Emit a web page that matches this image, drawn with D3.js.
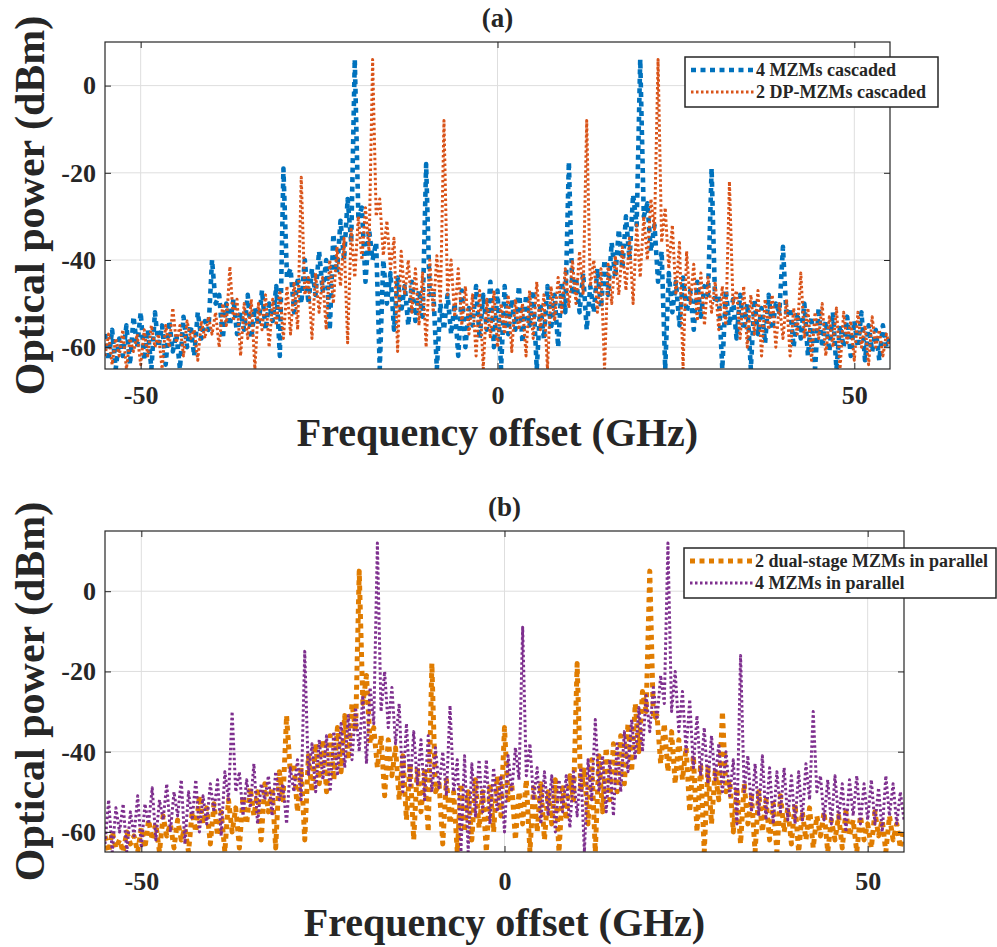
<!DOCTYPE html>
<html>
<head>
<meta charset="utf-8">
<script src="https://cdn.jsdelivr.net/npm/d3@7"></script>
<style>
  body { margin: 0; background: #fff; }
  svg text { font-family: "Liberation Serif", "Times New Roman", serif; font-weight: bold; fill: #262626; }
</style>
</head>
<body>
<svg id="fig" width="997" height="947"></svg>
<script>
// Frequency grid of the optical spectrum analyser trace (GHz)
const freqGHz = d3.range(-55, 55.001, 0.5);

const xTicks = [-50, 0, 50];
const yTicks = [-60, -40, -20, 0];

// (a) 4 MZMs cascaded, dBm (one row = 10 GHz, 0.5 GHz step)
const mzm4Cascaded = [
  -57,-63,-56,-65,-58,-62,-55,-64,-53,-60,-52,-63,-56,-65,-52,-60,-55,-64,-54,-61,
  -57,-65,-53,-60,-55,-62,-52,-58,-54,-56,-40,-50,-48,-58,-50,-55,-49,-57,-52,-56,
  -48,-58,-51,-55,-47,-56,-50,-54,-46,-62,-19,-44,-42,-52,-44,-50,-40,-50,-42,-48,
  -38,-47,-40,-56,-34,-43,-31,-40,-26,-36,6,-30,-28,-45,-33,-40,-36,-65,-40,-50,
  -43,-56,-44,-52,-46,-55,-45,-54,-47,-53,-18,-48,-47,-65,-50,-56,-48,-57,-50,-62,
  -47,-60,-51,-55,-46,-58,-48,-56,-45,-60,-47,-65,-46,-57,-49,-56,-46,-59,-48,-55,
  -47,-65,-50,-58,-46,-56,-48,-60,-45,-52,-17.5,-48,-44,-52,-43,-56,-46,-52,-42,-51,
  -40,-48,-36,-44,-33,-42,-30,-40,-25,-32,6,-30,-27,-38,-32,-45,-38,-65,-43,-52,
  -45,-55,-44,-52,-47,-56,-45,-53,-46,-48,-19,-50,-48,-65,-47,-55,-49,-58,-48,-56,
  -50,-65,-49,-57,-51,-59,-48,-56,-50,-52,-37,-53,-51,-60,-52,-58,-50,-62,-53,-65,
  -51,-60,-54,-61,-52,-65,-55,-60,-53,-62,-54,-60,-52,-63,-55,-61,-56,-63,-55,-60,
  -58
];

// (a) 2 DP-MZMs cascaded, dBm
const dpmzm2Cascaded = [
  -62,-57,-64,-58,-62,-56,-65,-58,-61,-57,-64,-56,-62,-55,-60,-57,-65,-55,-60,-51,
  -59,-55,-62,-54,-58,-56,-63,-54,-58,-53,-57,-52,-60,-50,-55,-41.5,-54,-49,-62,-50,
  -58,-49,-65,-50,-56,-48,-60,-49,-55,-47,-58,-46,-57,-45,-56,-21,-48,-44,-58,-43,
  -52,-44,-56,-40,-50,-37,-46,-35,-59,-33,-44,-30,-40,-28,-38,6,-30,-26,-39,-31,
  -42,-35,-61,-38,-48,-40,-52,-42,-55,-43,-60,-40,-52,-39,-50,-8,-48,-40,-53,-42,
  -55,-46,-57,-48,-62,-47,-65,-49,-58,-47,-60,-50,-57,-48,-61,-49,-56,-50,-62,-47,
  -58,-45,-56,-48,-65,-46,-54,-44,-52,-42,-51,-40,-50,-38,-48,-8,-46,-40,-52,-42,
  -65,-41,-50,-39,-48,-37,-47,-35,-50,-32,-44,-30,-40,-26,-33,6,-36,-28,-42,-32,
  -48,-36,-65,-38,-50,-41,-54,-43,-55,-44,-52,-45,-56,-46,-55,-22,-50,-47,-58,-46,
  -60,-48,-57,-47,-62,-49,-56,-48,-60,-50,-58,-49,-62,-51,-57,-43,-58,-51,-63,-52,
  -58,-50,-62,-53,-60,-51,-65,-52,-59,-54,-63,-52,-60,-55,-64,-53,-60,-56,-62,-57,
  -60
];

// (b) 2 dual-stage MZMs in parallel, dBm
const dualStage2Parallel = [
  -61,-65,-60,-64,-62,-65,-60,-63,-61,-65,-59,-64,-57,-62,-58,-65,-56,-61,-58,-64,
  -57,-62,-59,-65,-55,-60,-51,-58,-54,-63,-53,-61,-55,-65,-52,-60,-54,-64,-51,-58,
  -49,-56,-50,-62,-48,-55,-49,-64,-45,-52,-31,-45,-43,-55,-44,-62,-41,-50,-38,-48,
  -37,-50,-36,-47,-34,-45,-31,-42,-28,-35,5,-28,-21,-38,-34,-44,-36,-51,-37,-46,
  -39,-52,-41,-57,-43,-62,-44,-55,-45,-60,-18,-50,-48,-63,-47,-58,-50,-65,-48,-60,
  -50,-62,-47,-59,-50,-65,-48,-60,-46,-56,-34,-52,-48,-62,-50,-58,-47,-65,-49,-60,
  -48,-62,-50,-58,-47,-65,-49,-57,-46,-52,-18,-50,-44,-58,-42,-65,-41,-55,-39,-52,
  -38,-50,-36,-48,-33,-45,-28,-40,-25,-30,5,-32,-31,-43,-33,-45,-35,-48,-37,-47,
  -39,-55,-41,-60,-43,-65,-44,-58,-45,-52,-30,-50,-47,-60,-49,-63,-48,-58,-51,-65,
  -50,-60,-52,-62,-53,-65,-51,-60,-54,-63,-53,-65,-55,-62,-54,-64,-56,-61,-55,-65,
  -57,-62,-56,-64,-55,-61,-57,-65,-56,-62,-58,-64,-55,-61,-57,-65,-56,-62,-58,-64,
  -59
];

// (b) 4 MZMs in parallel, dBm
const mzm4Parallel = [
  -63,-52,-65,-54,-60,-53,-65,-55,-61,-51,-64,-53,-58,-49,-62,-52,-57,-48,-60,-50,
  -56,-47,-63,-50,-57,-47,-60,-51,-58,-48,-55,-47,-61,-45,-52,-30,-50,-45,-56,-47,
  -54,-43,-58,-48,-52,-46,-56,-45,-52,-48,-58,-44,-50,-42,-52,-15,-46,-38,-50,-37,
  -47,-36,-50,-35,-46,-33,-44,-31,-42,-29,-40,-26,-43,-24,-33,12,-30,-20,-34,-24,
  -38,-28,-50,-33,-49,-35,-48,-37,-52,-36,-50,-39,-49,-40,-51,-28.5,-50,-42,-65,-41,
  -65,-43,-56,-42,-55,-42,-58,-44,-55,-46,-60,-41,-50,-39,-47,-9,-46,-38,-52,-44,
  -58,-45,-56,-46,-60,-47,-55,-46,-59,-45,-56,-44,-65,-42,-52,-32,-50,-41,-55,-42,
  -56,-38,-50,-35,-45,-32,-42,-29,-40,-26,-35,-24,-32,-21,-28,12,-30,-20,-35,-25,
  -40,-27,-44,-31,-46,-34,-48,-36,-47,-38,-50,-40,-51,-42,-58,-16,-50,-41,-55,-43,
  -56,-41,-57,-44,-58,-45,-55,-44,-57,-46,-58,-45,-57,-43,-52,-30,-50,-46,-57,-47,
  -58,-46,-57,-48,-60,-47,-56,-46,-58,-48,-57,-47,-58,-49,-60,-46,-56,-48,-58,-50,
  -57
];

const panels = [
  {
    title: "(a)",
    box: { left: 105, right: 890, top: 42, bottom: 369 },
    yDomain: [-65, 10],
    series: [
      { name: "4 MZMs cascaded", values: mzm4Cascaded, color: "#0072BD", width: 4.6, dash: "5,4.5" },
      { name: "2 DP-MZMs cascaded", values: dpmzm2Cascaded, color: "#D95319", width: 3, dash: "2.5,2.5" }
    ],
    legend: { x: 685, y: 57, w: 253, h: 50 },
    tickPad: 17,
    xLabelY: 446,
    titleY: 27
  },
  {
    title: "(b)",
    box: { left: 105, right: 904, top: 531, bottom: 852 },
    yDomain: [-65, 15],
    series: [
      { name: "2 dual-stage MZMs in parallel", values: dualStage2Parallel, color: "#E07C00", width: 5, dash: "5,4.5" },
      { name: "4 MZMs in parallel", values: mzm4Parallel, color: "#7E2F8E", width: 3, dash: "2.5,2.5" }
    ],
    legend: { x: 684, y: 548, w: 312, h: 50 },
    tickPad: 20,
    xLabelY: 936,
    titleY: 516
  }
];

const svg = d3.select("#fig");

panels.forEach((p, pi) => {
  const b = p.box;
  const w = b.right - b.left, h = b.bottom - b.top;
  const x = d3.scaleLinear().domain([-55, 55]).range([b.left, b.right]);
  const y = d3.scaleLinear().domain(p.yDomain).range([b.bottom, b.top]);
  const g = svg.append("g");

  // grid
  g.append("g").selectAll("line").data(xTicks).join("line")
    .attr("x1", d => x(d)).attr("x2", d => x(d)).attr("y1", b.top).attr("y2", b.bottom)
    .attr("stroke", "#dedede").attr("stroke-width", 1);
  g.append("g").selectAll("line").data(yTicks).join("line")
    .attr("y1", d => y(d)).attr("y2", d => y(d)).attr("x1", b.left).attr("x2", b.right)
    .attr("stroke", "#dedede").attr("stroke-width", 1);

  // traces
  const clipId = "clip" + pi;
  svg.append("clipPath").attr("id", clipId).append("rect")
    .attr("x", b.left).attr("y", b.top).attr("width", w).attr("height", h);
  const line = d3.line().x((d, i) => x(freqGHz[i])).y(d => y(d));
  const traces = g.append("g").attr("clip-path", `url(#${clipId})`);
  p.series.forEach(s => {
    traces.append("path").datum(s.values)
      .attr("d", line)
      .attr("fill", "none")
      .attr("stroke", s.color)
      .attr("stroke-width", s.width)
      .attr("stroke-dasharray", s.dash)
      .attr("stroke-linejoin", "round");
  });

  // axes with inward ticks on all four sides; plain hyphen for negatives
  const fmt = d => String(d);
  const styleAxis = sel => {
    sel.select(".domain").remove();
    sel.selectAll(".tick line").attr("stroke", "#262626");
    sel.selectAll(".tick text").attr("fill", "#262626").attr("font-family", null)
      .style("font-size", "26px");
  };
  g.append("g").attr("transform", `translate(0,${b.bottom})`)
    .call(d3.axisBottom(x).tickValues(xTicks).tickSize(-6).tickPadding(p.tickPad).tickFormat(fmt))
    .call(styleAxis);
  g.append("g").attr("transform", `translate(${b.left},0)`)
    .call(d3.axisLeft(y).tickValues(yTicks).tickSize(-6).tickPadding(9).tickFormat(fmt))
    .call(styleAxis);
  g.append("g").attr("transform", `translate(0,${b.top})`)
    .call(d3.axisTop(x).tickValues(xTicks).tickSize(-6).tickFormat(""))
    .call(styleAxis);
  g.append("g").attr("transform", `translate(${b.right},0)`)
    .call(d3.axisRight(y).tickValues(yTicks).tickSize(-6).tickFormat(""))
    .call(styleAxis);

  g.append("rect").attr("x", b.left).attr("y", b.top).attr("width", w).attr("height", h)
    .attr("fill", "none").attr("stroke", "#262626").attr("stroke-width", 1.2);

  // titles and labels
  g.append("text").attr("x", (b.left + b.right) / 2).attr("y", p.titleY)
    .attr("text-anchor", "middle").style("font-size", "27px").text(p.title);
  g.append("text").attr("x", (b.left + b.right) / 2).attr("y", p.xLabelY)
    .attr("text-anchor", "middle").style("font-size", "40px").text("Frequency offset (GHz)");
  g.append("text")
    .attr("transform", `translate(44,${(b.top + b.bottom) / 2}) rotate(-90)`)
    .attr("text-anchor", "middle").style("font-size", "42px").text("Optical power (dBm)");

  // legend
  const L = p.legend;
  const lg = g.append("g");
  lg.append("rect").attr("x", L.x).attr("y", L.y).attr("width", L.w).attr("height", L.h)
    .attr("fill", "#fff").attr("stroke", "#262626").attr("stroke-width", 1.5);
  p.series.forEach((s, i) => {
    const cy = L.y + 13 + i * 22;
    lg.append("line").attr("x1", L.x + 6).attr("x2", L.x + 69).attr("y1", cy).attr("y2", cy)
      .attr("stroke", s.color).attr("stroke-width", s.width).attr("stroke-dasharray", s.dash);
    lg.append("text").attr("x", L.x + 71).attr("y", cy).attr("dy", "0.35em")
      .style("font-size", "18px").text(s.name);
  });
});
</script>
</body>
</html>
